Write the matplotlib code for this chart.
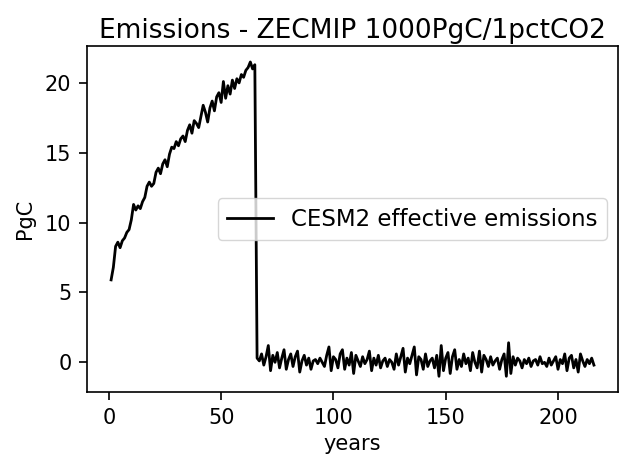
import numpy as np
import matplotlib
matplotlib.use("Agg")
import matplotlib.pyplot as plt

# emissions during ramp-up (years 1..65)
ramp = [5.9, 6.8, 8.3, 8.6, 8.2, 8.7, 8.9, 9.3, 9.5, 10.2,
        11.3, 10.9, 11.2, 11.0, 11.5, 11.8, 12.6, 12.9, 12.6, 12.8,
        13.6, 13.9, 13.5, 14.2, 14.5, 14.0, 14.9, 15.4, 15.3, 15.8,
        15.5, 16.0, 16.2, 15.8, 16.6, 17.0, 16.4, 17.3, 17.1, 16.8,
        17.6, 18.4, 17.9, 17.2, 18.2, 18.7, 18.0, 19.0, 19.3, 18.6,
        20.1, 18.9, 19.8, 19.2, 20.2, 19.6, 20.3, 20.0, 20.6, 20.4,
        20.9, 21.1, 21.5, 21.0, 21.3]

# emissions after cutoff (years 66..215)
after = [0.3, 0.1, 0.6, -0.2, 0.4, 1.2, -0.6, 0.5, 0.0, 0.7,
         -0.4, 0.3, 0.9, -0.5, 0.2, 0.6, -0.3, 0.4, 0.8, -0.7,
         0.1, 0.5, -0.2, 0.3, -0.5, 0.1, 0.2, -0.1, 0.3, 0.0,
         -0.3, 0.5, 1.1, -0.6, 0.4, 0.2, -0.4, 0.6, 0.9, -0.5,
         0.3, -0.2, 0.7, -0.8, 0.5, 0.1, -0.3, 0.4, -0.1, 0.2,
         0.8, -0.6, 0.3, -0.2, 0.5, -0.4, 0.1, 0.3, -0.3, 0.2,
         0.0, -0.5, 0.6, -0.2, 0.4, 1.0, -0.7, 0.3, -0.1, 0.5,
         1.1, -0.9, 0.4, 0.2, -0.5, 0.6, -0.3, 0.1, 0.3, -0.4,
         0.5, -1.0, 1.2, -0.6, 0.3, 0.7, -0.8, 0.4, 0.9, -0.5,
         0.2, -0.3, 0.6, -0.1, 0.3, -0.6, 0.7, 0.0, -0.4, 0.8,
         -0.7, 0.5, 0.2, -0.3, 0.4, -0.2, 0.1, 0.3, -0.5, 0.2,
         0.6, -1.0, 1.4, -0.8, 0.4, -0.2, 0.3, 0.1, -0.4, 0.2,
         -0.1, 0.3, -0.3, 0.1, 0.2, -0.2, 0.4, -0.1, 0.0, -0.3,
         0.3, -0.2, 0.1, 0.4, -0.5, 0.2, -0.1, 0.6, -0.6, 0.3,
         0.5, -0.4, 0.2, -0.7, 0.6, 0.1, -0.3, 0.2, -0.1, 0.3,
         -0.2]

emis = np.array(ramp + after)
years = np.arange(1, len(emis) + 1)

fig = plt.figure(figsize=(6.19, 4.61), dpi=100)
ax = fig.add_axes([0.1405, 0.1497, 0.858, 0.750])
ax.plot(years, emis, color='k', lw=2, label='CESM2 effective emissions')
ax.set_title('Emissions - ZECMIP 1000PgC/1pctCO2', fontsize=19)
ax.set_xlabel('years', fontsize=15, labelpad=5)
ax.set_ylabel('PgC', fontsize=15, labelpad=7)
ax.tick_params(labelsize=15, length=5.8, width=1.2, pad=5.4)
for s in ax.spines.values():
    s.set_linewidth(1.2)
ax.legend(loc='center right', fontsize=16.5)
fig.savefig('out.png', dpi=100)
